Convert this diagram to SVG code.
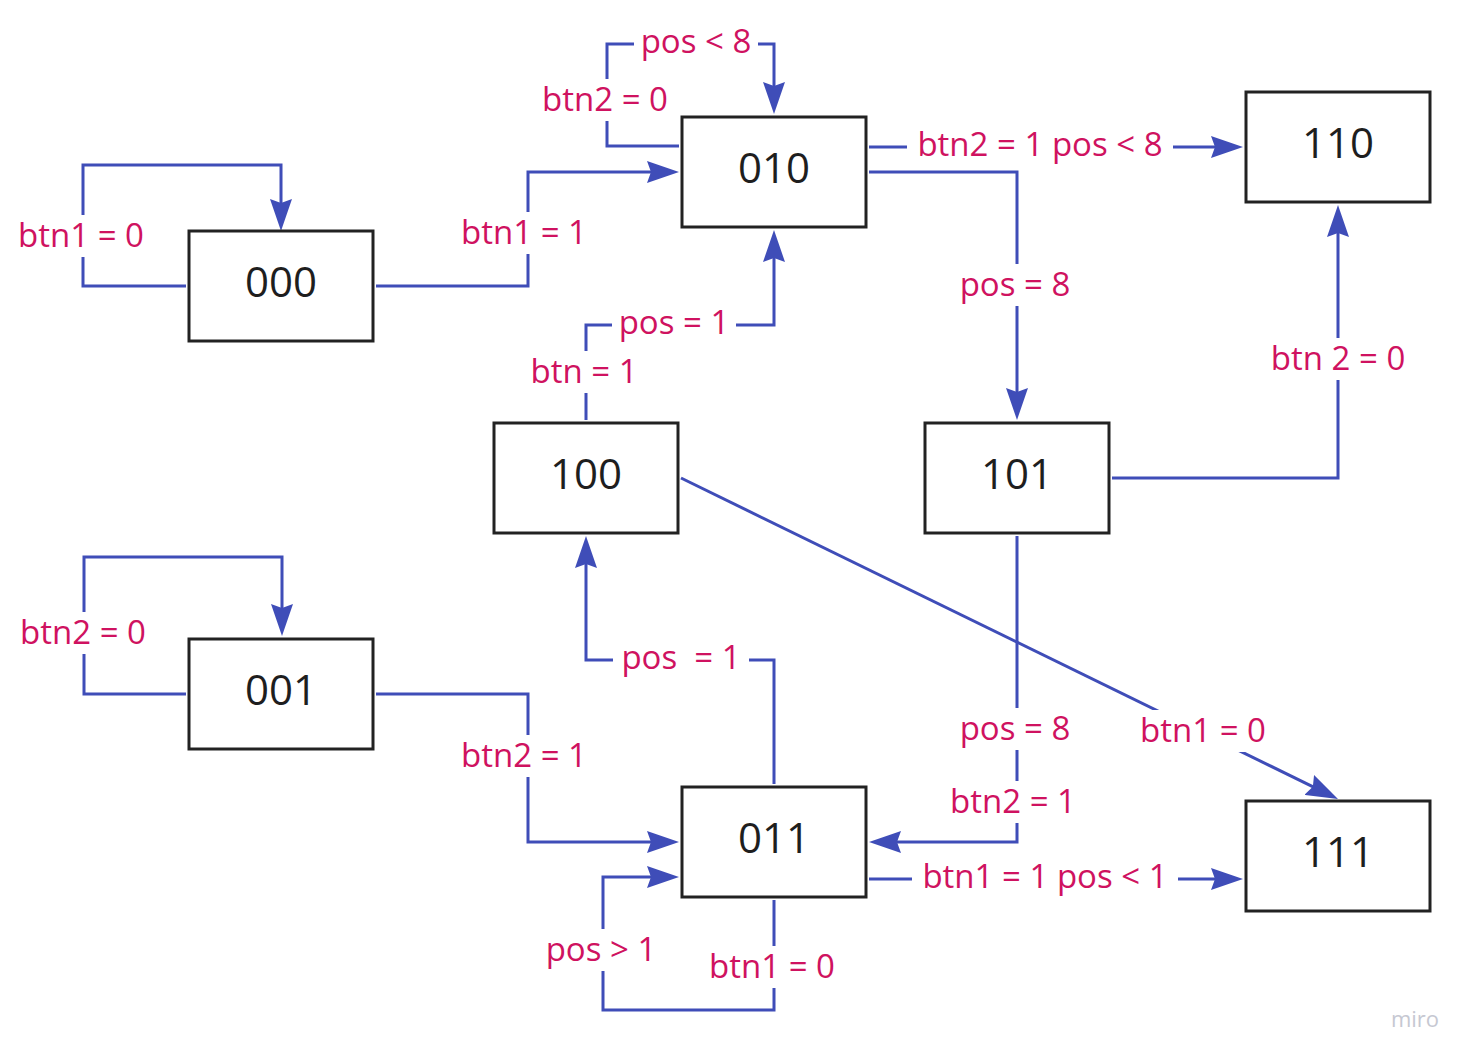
<svg xmlns="http://www.w3.org/2000/svg" width="1472" height="1060" viewBox="0 0 1472 1060">
<style>
.node rect{fill:#fff;stroke:#222;stroke-width:3}
.node text{font-family:"Open Sans","Liberation Sans",sans-serif;font-size:42px;fill:#1e1e1e;text-anchor:middle}
.conn path{fill:none;stroke:#3f4db8;stroke-width:3;marker-end:url(#arr)}
.lbl rect{fill:#fff}
.lbl text{font-family:"Open Sans","Liberation Sans",sans-serif;font-size:33px;fill:#cf1260;text-anchor:middle;white-space:pre}
.wm{font-family:"Open Sans","Liberation Sans",sans-serif;font-size:22px;fill:#c6c8d2;text-anchor:middle}
</style>
<defs>
<marker id="arr" markerUnits="userSpaceOnUse" viewBox="0 0 32 22" markerWidth="32" markerHeight="22" refX="22" refY="11" orient="auto">
<path d="M0,0 L32,11 L0,22 L4,11 z" fill="#3f4db8"/>
</marker>
</defs>
<rect width="1472" height="1060" fill="#fff"/>
<g id="connectors" class="conn">
<path d="M186,286 H83 V165 H281 V221"/>
<path d="M376,286 H528 V172 H669"/>
<path d="M679,146 H607 V44 H774 V104"/>
<path d="M869,147 H1233"/>
<path d="M869,172 H1017 V410"/>
<path d="M1112,478 H1338 V215"/>
<path d="M586,420 V325 H774 V240"/>
<path d="M681,478 L1329,794.6"/>
<path d="M1017,536 V842 H879"/>
<path d="M774,784 V660 H586 V546"/>
<path d="M186,694 H84 V557 H282 V626"/>
<path d="M376,694 H528 V842 H669"/>
<path d="M774,900 V1010 H603 V877 H669"/>
<path d="M869,879 H1233"/>
</g>
<g id="labels" class="lbl">
<rect x="12" y="215" width="138" height="42"/><text x="81" y="247">btn1 = 0</text>
<rect x="455" y="212" width="138" height="42"/><text x="524" y="244">btn1 = 1</text>
<rect x="634" y="21" width="124" height="42"/><text x="696" y="53">pos &lt; 8</text>
<rect x="536" y="79" width="138" height="42"/><text x="605" y="111">btn2 = 0</text>
<rect x="907" y="124" width="266" height="42"/><text x="1040" y="156">btn2 = 1 pos &lt; 8</text>
<rect x="953" y="264" width="124" height="42"/><text x="1015" y="296">pos = 8</text>
<rect x="1264" y="338" width="148" height="42"/><text x="1338" y="370">btn 2 = 0</text>
<rect x="612" y="302" width="124" height="42"/><text x="674" y="334">pos = 1</text>
<rect x="523" y="351" width="122" height="42"/><text x="584" y="383">btn = 1</text>
<rect x="1133" y="710" width="140" height="42"/><text x="1203" y="742">btn1 = 0</text>
<rect x="953" y="708" width="124" height="42"/><text x="1015" y="740">pos = 8</text>
<rect x="943" y="781" width="140" height="42"/><text x="1013" y="813">btn2 = 1</text>
<rect x="613" y="637" width="136" height="42"/><text x="681" y="669" xml:space="preserve">pos  = 1</text>
<rect x="13" y="612" width="140" height="42"/><text x="83" y="644">btn2 = 0</text>
<rect x="454" y="735" width="140" height="42"/><text x="524" y="767">btn2 = 1</text>
<rect x="702" y="946" width="140" height="42"/><text x="772" y="978">btn1 = 0</text>
<rect x="539" y="929" width="124" height="42"/><text x="601" y="961">pos &gt; 1</text>
<rect x="912" y="856" width="266" height="42"/><text x="1045" y="888">btn1 = 1 pos &lt; 1</text>
</g>
<g id="n000" class="node"><rect x="189" y="231" width="184" height="110"/><text x="281" y="297">000</text></g>
<g id="n010" class="node"><rect x="682" y="117" width="184" height="110"/><text x="774" y="183">010</text></g>
<g id="n110" class="node"><rect x="1246" y="92" width="184" height="110"/><text x="1338" y="158">110</text></g>
<g id="n100" class="node"><rect x="494" y="423" width="184" height="110"/><text x="586" y="489">100</text></g>
<g id="n101" class="node"><rect x="925" y="423" width="184" height="110"/><text x="1017" y="489">101</text></g>
<g id="n001" class="node"><rect x="189" y="639" width="184" height="110"/><text x="281" y="705">001</text></g>
<g id="n011" class="node"><rect x="682" y="787" width="184" height="110"/><text x="774" y="853">011</text></g>
<g id="n111" class="node"><rect x="1246" y="801" width="184" height="110"/><text x="1338" y="867">111</text></g>
<text class="wm" x="1415" y="1027">miro</text>
</svg>
